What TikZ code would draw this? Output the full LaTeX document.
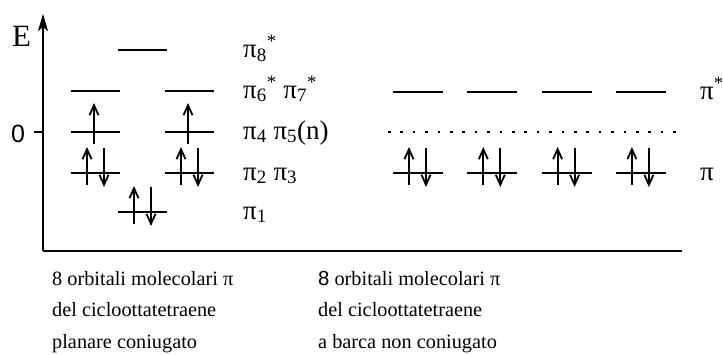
\documentclass[tikz,border=0pt]{standalone}
\usepackage{fontspec}
\setmainfont{Liberation Serif}
\setsansfont{Liberation Sans}
\usetikzlibrary{arrows.meta, positioning}
\tikzset{
  asse/.style={line width=1.8pt},
  freccia/.style={asse, -{Stealth[length=17pt, width=10pt, inset=4pt]}},
  livello/.style={line width=1.8pt},
  su/.style={line width=1.8pt, -{Straight Barb[length=10pt, width=9pt]}},
  giu/.style={su},
  puntini/.style={line width=2.8pt, dash pattern=on 2.6pt off 9.8pt},
  etichetta/.style={font=\fontsize{27}{30}\selectfont, anchor=base west, inner sep=0pt},
  didascalia/.style={font=\fontsize{20.3}{31.5}\selectfont, align=left,
    anchor=base west, inner sep=0pt},
}
\begin{document}
\begin{tikzpicture}[x=1pt, y=-1pt]
  \useasboundingbox (0,0) rectangle (723,354);

  % assi
  \coordinate (origine) at (43,251);
  \coordinate (cima) at (43,14);
  \coordinate (fine) at (682,251);
  \coordinate (tacca) at (34,132);
  \draw[freccia] (origine) -- (cima);
  \draw[asse] (origine) -- (fine);
  \draw[asse] (tacca) -- (tacca -| origine);
  \node[anchor=base west, inner sep=0pt, font=\fontsize{31}{31}\selectfont] (energia) at (12,46) {E};
  \node[anchor=base west, inner sep=0pt, font=\sffamily\fontsize{25}{25}\selectfont] (zero) at (11,142) {0};

  % planare coniugato
  \foreach \x/\y in {118/50, 71/91, 165/91, 71/132, 165/132, 71/173, 165/173, 118/212}
    \draw[livello] (\x,\y) -- ++(49,0);
  \foreach \x/\y in {71/173, 165/173, 118/212} {
    \draw[su] (\x+16,\y+12) -- ++(0,-38);
    \draw[giu] (\x+33,\y-25) -- ++(0,39);
  }
  \foreach \x in {71,165}
    \draw[su] (\x+23,144) -- ++(0,-41);

  \node[etichetta] (pi8) at (243,57) {π\textsubscript{8}\textsuperscript{*}};
  \node[etichetta] (pi67) at (243,98) {π\textsubscript{6}\textsuperscript{*} π\textsubscript{7}\textsuperscript{*}};
  \node[etichetta] (pi45) at (243,139) {π\textsubscript{4} π\textsubscript{5}(n)};
  \node[etichetta] (pi23) at (243,180) {π\textsubscript{2} π\textsubscript{3}};
  \node[etichetta] (pi1) at (243,219) {π\textsubscript{1}};

  % a barca non coniugato
  \foreach \x in {393,467.3,541.6,615.9} {
    \draw[livello] (\x,92) -- ++(50,0);
    \draw[livello] (\x,173) -- ++(50,0);
    \draw[su] (\x+16,185) -- ++(0,-38);
    \draw[giu] (\x+33,148) -- ++(0,39);
  }
  \draw[puntini] (388,132) -- (676,132);
  \node[etichetta] (pistar) at (700,99) {π\textsuperscript{*}};
  \node[etichetta] (pi) at (700,180) {π};

  \node[didascalia] (planare) at (52,348)
    {8 orbitali molecolari π\\del cicloottatetraene\\planare coniugato};
  \node[didascalia] (barca) at (318,348)
    {{\sffamily 8} orbitali molecolari π\\del cicloottatetraene\\a barca non coniugato};
\end{tikzpicture}
\end{document}
